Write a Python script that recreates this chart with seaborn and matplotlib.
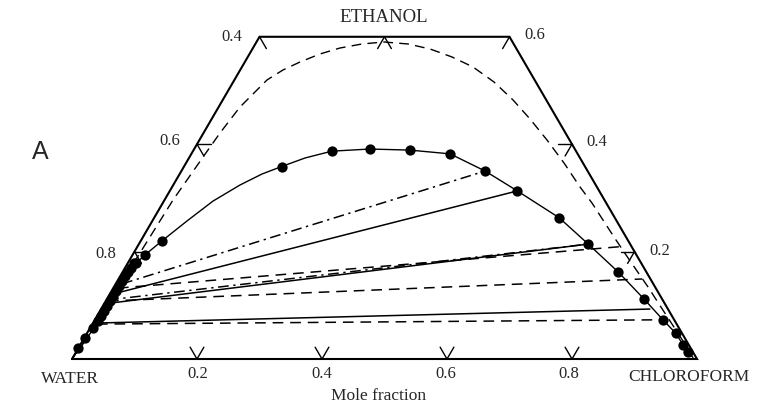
import numpy as np
import pandas as pd
import matplotlib
matplotlib.use("Agg")
import matplotlib.pyplot as plt
import seaborn as sns

# ---------------- data (mole fractions: chloroform, ethanol) ----------------
# experimental binodal points - water-rich branch
exp_left_chloroform = [0.000, 0.001, 0.005, 0.006, 0.006, 0.007, 0.007, 0.007, 0.007,
                       0.007, 0.007, 0.007, 0.008, 0.008, 0.009, 0.010, 0.013, 0.020, 0.034]
exp_left_ethanol = [0.020, 0.039, 0.058, 0.071, 0.080, 0.089, 0.099, 0.108, 0.117,
                    0.127, 0.136, 0.145, 0.155, 0.162, 0.170, 0.179, 0.179, 0.194, 0.220]
# experimental binodal points - upper / chloroform-rich branch
exp_right_chloroform = [0.157, 0.222, 0.281, 0.346, 0.414, 0.486, 0.556, 0.648,
                        0.719, 0.793, 0.859, 0.909, 0.942, 0.965, 0.979]
exp_right_ethanol = [0.358, 0.387, 0.391, 0.389, 0.382, 0.350, 0.313, 0.263,
                     0.214, 0.162, 0.112, 0.073, 0.048, 0.026, 0.013]

# experimental binodal curve (solid)
exp_curve_chloroform = [0.000, 0.003, 0.006, 0.007, 0.008, 0.010, 0.020, 0.034, 0.0555,
                        0.0785, 0.1068, 0.1318, 0.158, 0.1857, 0.222, 0.281, 0.346, 0.414,
                        0.486, 0.556, 0.648, 0.719, 0.793, 0.859, 0.909, 0.942, 0.965,
                        0.979, 0.992]
exp_curve_ethanol = [0.004, 0.020, 0.058, 0.099, 0.136, 0.170, 0.194, 0.220, 0.257,
                     0.294, 0.324, 0.3445, 0.3594, 0.3743, 0.387, 0.391, 0.389, 0.382,
                     0.350, 0.313, 0.263, 0.214, 0.162, 0.112, 0.073, 0.048, 0.026,
                     0.013, 0.003]

# predicted binodal curve (dashed)
pred_chloroform = [0.000, 0.004, 0.006, 0.010, 0.0136, 0.0216, 0.0264, 0.0341, 0.0442,
                   0.0522, 0.0685, 0.0883, 0.1128, 0.1392, 0.1707, 0.2040, 0.2443,
                   0.2842, 0.3268, 0.3697, 0.4173, 0.4645, 0.5094, 0.5561, 0.6047,
                   0.6527, 0.6867, 0.7202, 0.7536, 0.7896, 0.8221, 0.8546, 0.888,
                   0.9214, 0.9549, 0.9883]
pred_ethanol = [0.003, 0.060, 0.110, 0.197, 0.296, 0.376, 0.421, 0.469, 0.4972,
                0.5196, 0.5382, 0.5531, 0.568, 0.5791, 0.5866, 0.5903, 0.5866,
                0.5773, 0.5624, 0.5438, 0.5158, 0.4823, 0.4469, 0.4078, 0.365,
                0.3203, 0.2905, 0.2588, 0.2272, 0.1937, 0.1639, 0.1341, 0.1024,
                0.0708, 0.0391, 0.0074]

# tie lines: water-rich end -> chloroform-rich end
tie_style = ["solid", "solid", "solid", "dashed", "dashed", "dashed", "dashdot", "dashdot"]
tie_c1 = [0.0106, 0.0087, 0.0081, 0.0075, 0.0036, 0.0074, 0.0102, 0.0027]
tie_e1 = [0.123, 0.104, 0.067, 0.132, 0.108, 0.065, 0.140, 0.110]
tie_c2 = [0.556, 0.719, 0.878, 0.771, 0.838, 0.9045, 0.486, 0.719]
tie_e2 = [0.313, 0.214, 0.093, 0.209, 0.149, 0.073, 0.350, 0.214]

# axis tick values
bottom_ticks = [0.2, 0.4, 0.6, 0.8]
bottom_labels = ["0.2", "0.4", "0.6", "0.8"]
side_ticks_ethanol = [0.2, 0.4]

# ---------------- helpers ----------------
H = np.sqrt(3) / 2


def tern(c, e):
    c = np.asarray(c, float)
    e = np.asarray(e, float)
    return c + e / 2, e * H


def fp(px, py):
    return px / 763, 1 - py / 405


sns.set_style("white")
plt.rcParams["font.family"] = ["Liberation Serif", "DejaVu Serif"]

fig = plt.figure(figsize=(7.63, 4.05), dpi=100)
ax = fig.add_axes([0, 0, 1, 1])
ax.set_xlim(-72 / 625, 691 / 625)
ax.set_ylim(-46 / 620.1, 359 / 620.1)
ax.axis("off")

DASH = (7, 4.5)
DASHDOT = (7, 3, 1.5, 3)

# frame (truncated triangle)
fx, fy = tern([0, 1, 0.4, 0, 0], [0, 0, 0.6, 0.6, 0])
ax.plot(fx, fy, color="black", lw=1.5, solid_joinstyle="miter", zorder=4)

# ticks
L = 0.022
segs = []
for c in bottom_ticks:
    segs.append(([c, c], [0, L]))
    segs.append(([c, c - L], [0, L]))
for e in side_ticks_ethanol:
    segs.append(([0, L], [e, e]))
    segs.append(([0, L], [e, e - L]))
    c = 1 - e
    segs.append(([c, c - L], [e, e]))
    segs.append(([c, c], [e, e - L]))
segs.append(([0, L], [0.6, 0.6 - L]))
segs.append(([0.4, 0.4], [0.6, 0.6 - L]))
segs.append(([0.2, 0.2], [0.6, 0.6 - L]))
segs.append(([0.2, 0.2 + L], [0.6, 0.6 - L]))
for cc, ee in segs:
    sx, sy = tern(cc, ee)
    ax.plot(sx, sy, color="black", lw=1.0, zorder=4)

# predicted binodal (dashed)
px_, py_ = tern(pred_chloroform, pred_ethanol)
sns.lineplot(x=px_, y=py_, sort=False, estimator=None, color="black", lw=1.0, ax=ax)
ax.lines[-1].set_dashes(DASH)

# experimental binodal (solid)
ex, ey = tern(exp_curve_chloroform, exp_curve_ethanol)
sns.lineplot(x=ex, y=ey, sort=False, estimator=None, color="black", lw=1.0, ax=ax)

# tie lines
for st, c1, e1, c2, e2 in zip(tie_style, tie_c1, tie_e1, tie_c2, tie_e2):
    tx, ty = tern([c1, c2], [e1, e2])
    sns.lineplot(x=tx, y=ty, sort=False, estimator=None, color="black", lw=1.1, ax=ax)
    if st == "dashed":
        ax.lines[-1].set_dashes(DASH)
    elif st == "dashdot":
        ax.lines[-1].set_dashes(DASHDOT)

# experimental points
dots = pd.DataFrame({
    "chloroform": exp_left_chloroform + exp_right_chloroform,
    "ethanol": exp_left_ethanol + exp_right_ethanol,
})
dx, dy = tern(dots["chloroform"], dots["ethanol"])
sns.scatterplot(x=dx, y=dy, color="black", s=55, linewidth=0, zorder=5, ax=ax)

# ---------------- text ----------------
fs = 12
fig.text(*fp(384, 18), "ETHANOL", ha="center", va="center", fontsize=13.5)
fig.text(*fp(232, 37), "0.4", ha="center", va="center", fontsize=fs)
fig.text(*fp(535, 35), "0.6", ha="center", va="center", fontsize=fs)
fig.text(*fp(170, 141), "0.6", ha="center", va="center", fontsize=fs)
fig.text(*fp(597, 142), "0.4", ha="center", va="center", fontsize=fs)
fig.text(*fp(106, 254), "0.8", ha="center", va="center", fontsize=fs)
fig.text(*fp(660, 251), "0.2", ha="center", va="center", fontsize=fs)
for lab, pxx in zip(bottom_labels, [198, 322, 446, 569]):
    fig.text(*fp(pxx, 374), lab, ha="center", va="center", fontsize=fs)
fig.text(*fp(70, 379), "WATER", ha="center", va="center", fontsize=12.5)
fig.text(*fp(689, 377), "CHLOROFORM", ha="center", va="center", fontsize=12.5)
fig.text(*fp(379, 396), "Mole fraction", ha="center", va="center", fontsize=12.5)
fig.text(*fp(40, 152), "A", ha="center", va="center", fontsize=18,
         family=["Liberation Sans", "DejaVu Sans"])

fig.savefig("out.png", dpi=100, facecolor="white")
